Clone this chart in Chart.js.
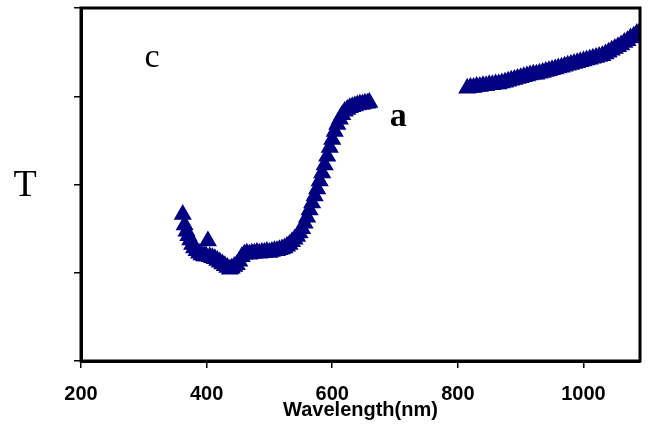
<!DOCTYPE html>
<html>
<head>
<meta charset="utf-8">
<script src="https://cdn.jsdelivr.net/npm/chart.js@4.4.1/dist/chart.umd.min.js"></script>
<style>
  html, body { margin:0; padding:0; background:#fff; }
  #wrap { width:649px; height:447px; }
</style>
</head>
<body>
<div id="wrap"><canvas id="chart" width="649" height="447"></canvas></div>
<script>
// --- data ---
// segment below ~660 nm
const wlA = [362,365,368,371,374,377,380,384,388,392,396,399,402,405,409,413,417,421,425,429,433,437,440,444,448,452,456,460,464,468,472,476,480,484,488,492,496,500,504,508,512,516,520,524,528,532,536,540,544,548,552,556,560,564,568,572,576,580,584,588,592,596,600,604,608,612,616,620,624,628,632,636,640,644,648,652,656,659];
const tA  = [1.66,1.54,1.47,1.42,1.37,1.32,1.28,1.25,1.22,1.20,1.19,1.19,1.36,1.18,1.17,1.16,1.14,1.12,1.10,1.08,1.06,1.04,1.05,1.07,1.09,1.13,1.18,1.21,1.22,1.21,1.22,1.22,1.23,1.22,1.23,1.23,1.24,1.23,1.24,1.25,1.25,1.26,1.27,1.28,1.30,1.32,1.35,1.38,1.41,1.45,1.50,1.56,1.63,1.71,1.79,1.87,1.95,2.04,2.13,2.22,2.32,2.42,2.51,2.60,2.68,2.74,2.79,2.83,2.85,2.87,2.88,2.89,2.90,2.91,2.91,2.92,2.92,2.93];
// segment above ~815 nm
const wlB = [815,820,825,830,835,840,845,850,855,860,865,870,875,880,885,890,895,900,905,910,915,920,925,930,935,940,945,950,955,960,965,970,975,980,985,990,995,1000,1005,1010,1015,1020,1025,1030,1035,1040,1045,1050,1055,1060,1065,1070,1075,1080,1085,1090];
const tB  = [3.09,3.10,3.10,3.11,3.11,3.12,3.12,3.13,3.13,3.14,3.14,3.15,3.16,3.17,3.18,3.19,3.20,3.21,3.22,3.23,3.24,3.25,3.25,3.26,3.27,3.28,3.29,3.30,3.31,3.32,3.33,3.34,3.35,3.36,3.37,3.38,3.39,3.40,3.41,3.42,3.43,3.44,3.45,3.46,3.48,3.50,3.52,3.54,3.56,3.58,3.61,3.63,3.66,3.68,3.71,3.73];

const xTicks = [200, 400, 600, 800, 1000];
const yTicks = [0, 1, 2, 3, 4];

// in-plot letters (data coords)
const noteText = ['c', 'a'];
const noteX    = [313, 705];
const noteY    = [3.43, 2.76];
const noteBold = [false, true];

const NAVY = '#000080';

const toPts = (xs, ys) => xs.map((x, i) => ({ x, y: ys[i] }));

// box round the plot + letters
const framePlugin = {
  id: 'frame',
  afterDraw(chart){
    const { ctx, chartArea: a, scales } = chart;
    ctx.save();
    ctx.strokeStyle = '#000';
    ctx.lineWidth = 3;
    ctx.strokeRect(a.left, a.top, a.right - a.left, a.bottom - a.top);

    ctx.fillStyle = '#000';
    ctx.textAlign = 'center';
    ctx.textBaseline = 'middle';
    noteText.forEach((t, i) => {
      ctx.font = (noteBold[i] ? 'bold ' : '') + '34px "Times New Roman", "Liberation Serif", serif';
      ctx.fillText(t, scales.x.getPixelForValue(noteX[i]), scales.y.getPixelForValue(noteY[i]));
    });

    // axis letter T (not rotated)
    ctx.font = '38px "Times New Roman", "Liberation Serif", serif';
    ctx.fillText('T', 25, 186);
    ctx.restore();
  }
};

const marker = { pointStyle:'triangle', pointRadius:9, pointHoverRadius:9,
                 backgroundColor: NAVY, borderColor: NAVY, borderWidth:1.5, showLine:false };

new Chart(document.getElementById('chart'), {
  type: 'scatter',
  data: {
    datasets: [
      { ...marker, data: toPts(wlA, tA) },
      { ...marker, data: toPts(wlB, tB) }
    ]
  },
  options: {
    responsive: false,
    animation: false,
    events: [],
    layout: { autoPadding: false, padding: { top: 8, right: 9, left: 0, bottom: 0 } },
    plugins: { legend: { display:false }, tooltip: { enabled:false } },
    scales: {
      x: {
        type: 'linear', min: 200, max: 1090,
        afterFit(s){ s.height = 86; },
        afterBuildTicks(s){ s.ticks = xTicks.map(v => ({ value: v })); },
        border: { display:true, color:'#000', width:3 },
        grid: { drawOnChartArea:false, drawTicks:true, tickLength:7, color:'#000', lineWidth:1.5 },
        ticks: { color:'#000', padding:14, maxRotation:0,
                 callback: v => String(v),
                 font: { family:'Arial, "Liberation Sans", sans-serif', size:20, weight:'bold' } },
        title: { display:true, text:'Wavelength(nm)', color:'#000',
                 padding: { top:0, bottom:25 },
                 font: { family:'Arial, "Liberation Sans", sans-serif', size:20, weight:'bold' } }
      },
      y: {
        type: 'linear', min: 0, max: 4,
        afterFit(s){ s.width = 81; },
        afterBuildTicks(s){ s.ticks = yTicks.map(v => ({ value: v })); },
        border: { display:true, color:'#000', width:3 },
        grid: { drawOnChartArea:false, drawTicks:true, tickLength:7, color:'#000', lineWidth:1.5 },
        ticks: { display:false }
      }
    }
  },
  plugins: [framePlugin]
});
</script>
</body>
</html>
